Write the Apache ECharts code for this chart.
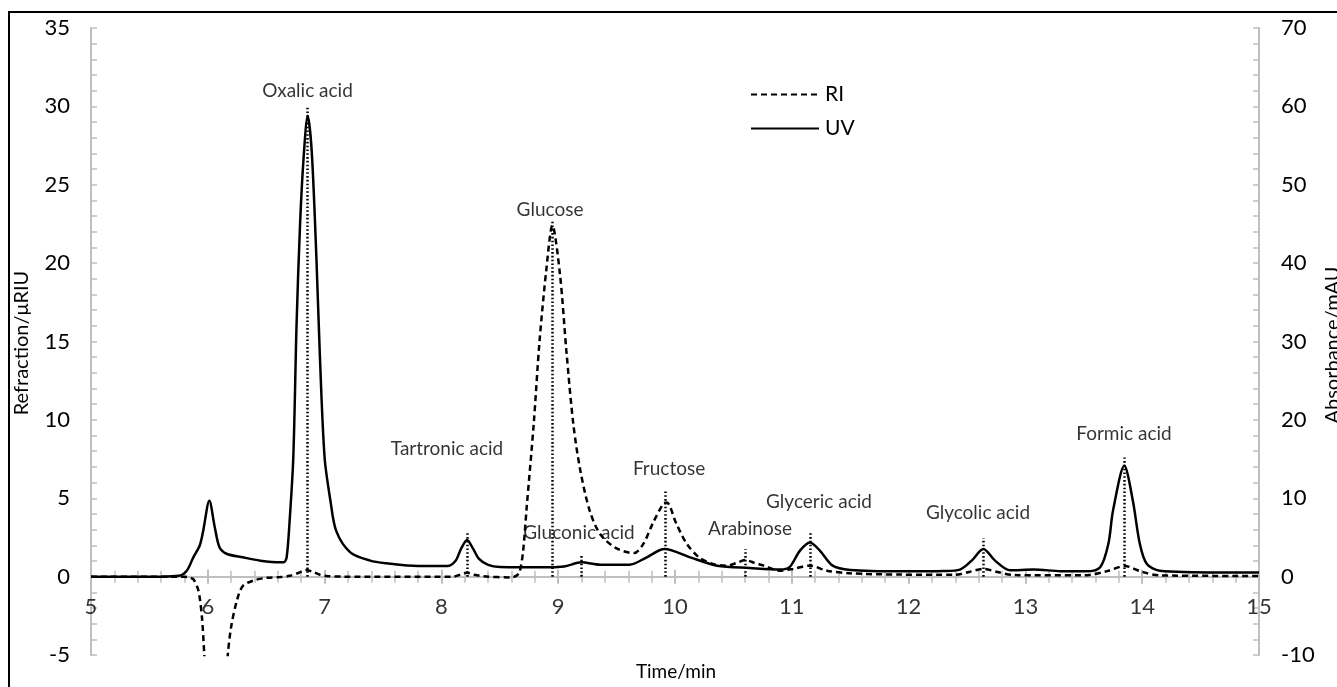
<!DOCTYPE html>
<html><head><meta charset="utf-8">
<script src="https://cdn.jsdelivr.net/npm/echarts@6/dist/echarts.min.js"></script>
<style>html,body{margin:0;padding:0;background:#fff}#c{width:1337px;height:687px}</style>
</head><body><div id="c"></div>
<script>
// RI detector (left axis, µRIU)
const riTime = [5.0, 5.79, 5.85, 5.88, 5.92, 5.95, 5.97, 6.0, 6.07, 6.14, 6.17, 6.20, 6.25, 6.30, 6.39, 6.5, 6.62, 6.7, 6.78, 6.84, 6.9, 6.96, 7.03, 7.15, 8.1, 8.16, 8.22, 8.28, 8.36, 8.6, 8.64, 8.67, 8.70, 8.73, 8.79, 8.84, 8.90, 8.95, 9.015, 9.07, 9.13, 9.19, 9.27, 9.36, 9.5, 9.65, 9.73, 9.81, 9.90, 9.93, 10.01, 10.1, 10.21, 10.33, 10.44, 10.52, 10.6, 10.68, 10.76, 10.9, 11.01, 11.155, 11.3, 11.5, 11.93, 12.4, 12.52, 12.64, 12.76, 12.9, 13.5, 13.7, 13.85, 14.0, 14.15, 15];
const riValue = [0, 0, -0.08, -0.2, -0.9, -2.6, -5.0, -9, -14, -9, -5.1, -3.2, -1.5, -0.6, -0.25, -0.08, -0.03, 0.05, 0.25, 0.42, 0.3, 0.12, 0.03, 0, 0, 0.12, 0.25, 0.12, 0.02, -0.05, 0.05, 0.3, 1.66, 4.4, 9.7, 15.0, 19.7, 22.4, 19.3, 14.4, 9.7, 6.75, 4.2, 2.7, 1.8, 1.5, 2.1, 3.4, 4.65, 4.73, 3.4, 2.1, 1.2, 0.8, 0.7, 0.85, 1.06, 0.88, 0.7, 0.38, 0.49, 0.7, 0.38, 0.21, 0.13, 0.12, 0.3, 0.49, 0.3, 0.1, 0.08, 0.35, 0.68, 0.3, 0.08, 0.04];
// UV detector (right axis, mAU)
const uvTime = [5.0, 5.6, 5.75, 5.82, 5.876, 5.93, 5.96, 6.013, 6.06, 6.10, 6.16, 6.30, 6.45, 6.62, 6.65, 6.675, 6.70, 6.732, 6.76, 6.79, 6.82, 6.855, 6.89, 6.93, 6.96, 7.00, 7.05, 7.10, 7.22, 7.39, 7.53, 7.8, 8.05, 8.12, 8.17, 8.22, 8.27, 8.32, 8.4, 8.5, 8.93, 9.05, 9.2, 9.36, 9.61, 9.75, 9.91, 10.13, 10.36, 10.64, 10.9, 10.98, 11.07, 11.155, 11.24, 11.35, 11.5, 11.93, 12.3, 12.44, 12.54, 12.64, 12.74, 12.87, 13.07, 13.3, 13.52, 13.64, 13.71, 13.75, 13.847, 13.92, 13.98, 14.04, 14.15, 14.67, 15];
const uvValue = [0, 0, 0.1, 0.76, 2.46, 3.94, 5.8, 9.68, 6.28, 3.74, 2.92, 2.46, 2.04, 1.82, 1.82, 2.46, 7.0, 15.2, 32.2, 45.0, 53.4, 58.8, 54.2, 40.6, 28.0, 15.2, 9.68, 5.8, 3.1, 2.04, 1.7, 1.36, 1.36, 2.0, 3.6, 4.68, 3.6, 2.3, 1.5, 1.24, 1.2, 1.3, 1.82, 1.52, 1.52, 2.4, 3.52, 2.46, 1.4, 1.1, 0.9, 1.2, 3.32, 4.36, 3.32, 1.4, 0.86, 0.68, 0.72, 0.9, 2.04, 3.52, 2.04, 0.8, 0.9, 0.7, 0.68, 1.2, 4.16, 8.4, 14.14, 9.68, 4.16, 1.6, 0.76, 0.54, 0.54];
// Peak annotations
const peakNames = ['Oxalic acid', 'Tartronic acid', 'Glucose', 'Gluconic acid', 'Fructose', 'Arabinose', 'Glyceric acid', 'Glycolic acid', 'Formic acid'];
const peakTimes = [6.855, 8.22, 8.95, 9.2, 9.92, 10.6, 11.155, 12.64, 13.85];
const peakTops = [30, 2.8, 22.7, 1.45, 5.5, 1.75, 2.8, 2.45, 7.6];
const labelTimes = [6.854, 8.048, 8.93, 9.178, 9.949, 10.642, 11.233, 12.594, 13.844];
const labelValues = [31.0, 8.15, 23.4, 2.8, 6.88, 3.06, 4.78, 4.08, 9.11];
// Time axis tick labels
const timeTicks = [5, 6, 7, 8, 9, 10, 11, 12, 13, 14, 15];

const FONT = 'Lato';
const GRAY = '#bfbfbf';
const TXT = '#000';
const chart = echarts.init(document.getElementById('c'));
const tickX = {show: true, length: 7, lineStyle: {color: GRAY, width: 2}};
const minorX = {show: true, splitNumber: 5, length: 6, lineStyle: {color: GRAY, width: 1.5}};
chart.setOption({
  animation: false,
  backgroundColor: '#fff',
  grid: {left: 91, right: 78, top: 28, bottom: 32, containLabel: false, outerBoundsMode: 'none'},
  legend: {
    data: ['RI', 'UV'], orient: 'vertical', left: 745, top: 79,
    itemWidth: 68, itemHeight: 20, itemGap: 13,
    itemStyle: {color: 'rgba(0,0,0,0)', borderWidth: 0, opacity: 0},
    textStyle: {fontFamily: FONT, fontSize: 21, color: TXT, padding: [0, 0, 0, 1]}
  },
  xAxis: [
    {type: 'value', min: 5, max: 15, interval: 1, position: 'bottom',
     axisLine: {onZero: true, onZeroAxisIndex: 0, lineStyle: {color: GRAY, width: 2}},
     axisTick: tickX, minorTick: minorX,
     axisLabel: {show: false},
     splitLine: {show: false}},
    {type: 'value', min: 5, max: 15, interval: 1, position: 'top',
     axisLine: {onZero: true, onZeroAxisIndex: 0, lineStyle: {color: GRAY, width: 2}},
     axisTick: tickX, minorTick: minorX,
     axisLabel: {show: false}, splitLine: {show: false}}
  ],
  yAxis: [
    {type: 'value', min: -5, max: 35, interval: 5, position: 'left',
     axisLine: {show: true, onZero: false, lineStyle: {color: GRAY, width: 2}},
     axisTick: {show: true, inside: true, length: 6, lineStyle: {color: GRAY, width: 1.5}},
     minorTick: {show: true, splitNumber: 5, length: 6, lineStyle: {color: GRAY, width: 1.5}},
     axisLabel: {fontFamily: FONT, fontSize: 22, color: TXT, margin: 21},
     splitLine: {show: false}},
    {type: 'value', min: -10, max: 70, interval: 10, position: 'right',
     axisLine: {show: true, onZero: false, lineStyle: {color: GRAY, width: 2}},
     axisTick: {show: true, inside: true, length: 6, lineStyle: {color: GRAY, width: 1.5}},
     minorTick: {show: true, splitNumber: 5, length: 6, lineStyle: {color: GRAY, width: 1.5}},
     axisLabel: {fontFamily: FONT, fontSize: 22, color: TXT, margin: 22},
     splitLine: {show: false}}
  ],
  series: [
    {name: 'RI', type: 'line', xAxisIndex: 0, yAxisIndex: 0, symbol: 'none', smooth: 0.3,
     data: riTime.map((t, i) => [t, riValue[i]]),
     lineStyle: {color: '#000', width: 2.5, type: [6, 4]}, itemStyle: {color: '#000'}, z: 3,
     markLine: {silent: true, symbol: ['none', 'none'], label: {show: false}, animation: false,
       lineStyle: {color: '#000', width: 2.5, type: [1.6, 2.2]},
       emphasis: {disabled: true},
       data: peakTimes.map((t, i) => [{coord: [t, 0]}, {coord: [t, peakTops[i]]}])}},
    {name: 'UV', type: 'line', xAxisIndex: 0, yAxisIndex: 1, symbol: 'none', smooth: 0.3,
     data: uvTime.map((t, i) => [t, uvValue[i]]),
     lineStyle: {color: '#000', width: 2.5}, itemStyle: {color: '#000'}, z: 2},
    {name: 'labels', type: 'scatter', xAxisIndex: 0, yAxisIndex: 0, symbolSize: 1, silent: true, z: 10,
     itemStyle: {color: 'rgba(0,0,0,0)'},
     label: {show: true, position: 'inside', formatter: '{b}', fontFamily: FONT, fontSize: 19, color: TXT},
     data: peakNames.map((n, i) => ({name: n, value: [labelTimes[i], labelValues[i]]}))},
    {name: 'timeTicks', type: 'scatter', xAxisIndex: 0, yAxisIndex: 0, symbolSize: 1, silent: true, z: 10, clip: false,
     itemStyle: {color: 'rgba(0,0,0,0)'},
     label: {show: true, position: 'bottom', distance: 19, formatter: (p) => String(p.value[0]), fontFamily: FONT, fontSize: 22, color: TXT},
     data: timeTicks.map((t) => [t, 0])}
  ],
  graphic: [
    {type: 'rect', silent: true, z: 100, shape: {x: 9, y: 12, width: 1400, height: 800},
     style: {fill: 'none', stroke: '#000', lineWidth: 2}},
    {type: 'text', x: 22, y: 343, rotation: Math.PI / 2, silent: true,
     style: {text: 'Refraction/μRIU', fontFamily: FONT, fontSize: 20, fill: TXT, align: 'center', verticalAlign: 'middle'}},
    {type: 'text', x: 676, y: 672, silent: true,
     style: {text: 'Time/min', fontFamily: FONT, fontSize: 19, fill: TXT, align: 'center', verticalAlign: 'middle'}},
    {type: 'text', x: 1333, y: 345, rotation: Math.PI / 2, silent: true,
     style: {text: 'Absorbance/mAU', fontFamily: FONT, fontSize: 20, fill: TXT, align: 'center', verticalAlign: 'middle'}}
  ]
});
</script></body></html>
